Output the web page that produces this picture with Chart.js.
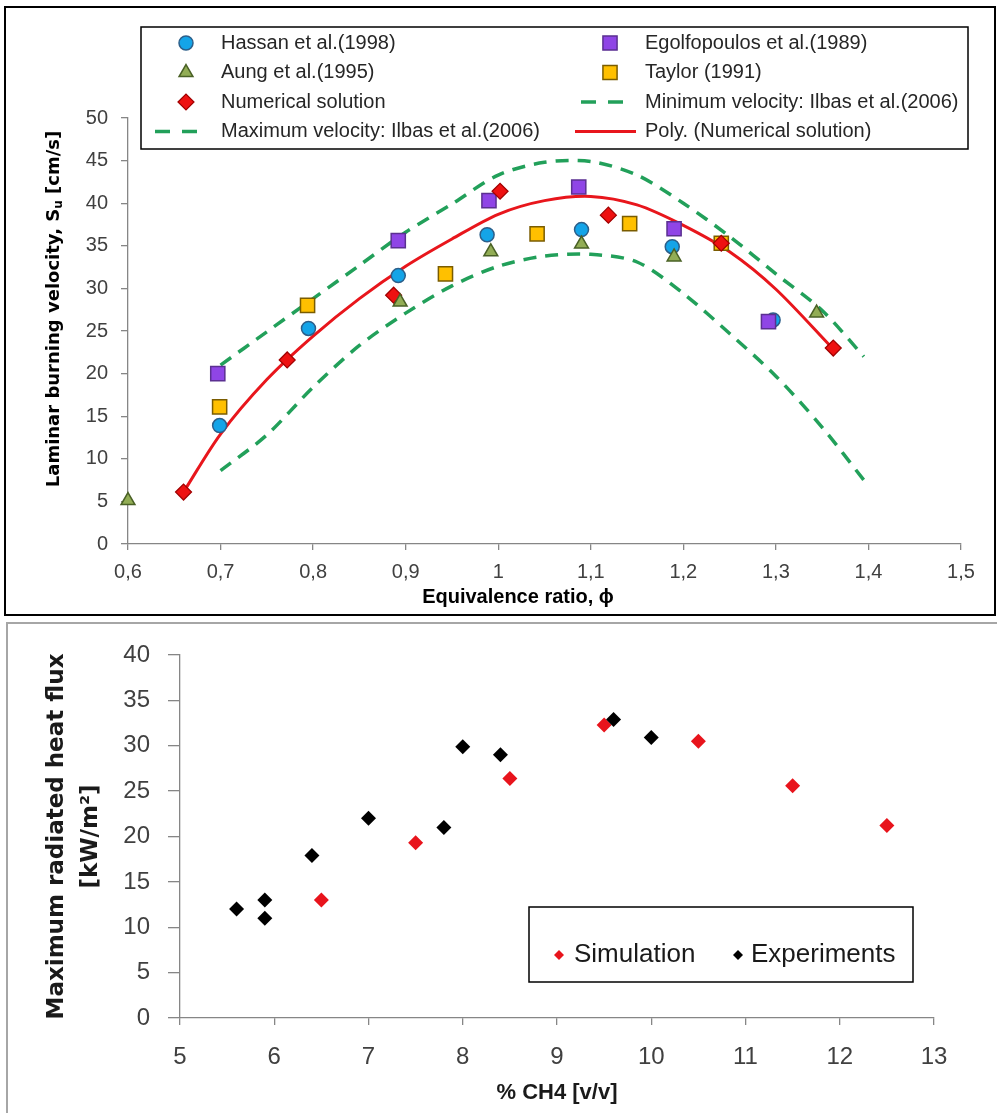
<!DOCTYPE html>
<html>
<head>
<meta charset="utf-8">
<script src="https://cdn.jsdelivr.net/npm/chart.js@4.4.1/dist/chart.umd.min.js"></script>
<style>
  html, body { margin: 0; padding: 0; background: #fff; overflow: hidden; }
  #page { position: relative; width: 997px; height: 1113px; overflow: hidden; }
  #topFrame { position: absolute; box-sizing: border-box; left: 4px; top: 6px; width: 992px; height: 610px; border: 2px solid #000; }
  #bottomFrame { position: absolute; box-sizing: border-box; left: 6px; top: 622px; width: 1000px; height: 520px; border: 2px solid #a6a6a6; }
  #topChart { position: absolute; left: 0; top: 0; }
  #bottomChart { position: absolute; left: 0; top: 620px; }
</style>
</head>
<body>
<div id="page">
  <div id="topFrame"></div>
  <div id="bottomFrame"></div>
  <canvas id="topChart" width="997" height="620"></canvas>
  <canvas id="bottomChart" width="997" height="493"></canvas>
</div>
<script>
// ---- top chart: laminar burning velocity vs equivalence ratio ----
const hassanPhi = [0.699, 0.795, 0.892, 0.988, 1.090, 1.188, 1.297];
const hassanSu = [13.9, 25.3, 31.5, 36.3, 36.9, 34.9, 26.3];
const egolfPhi = [0.697, 0.892, 0.990, 1.087, 1.190, 1.292];
const egolfSu = [20.0, 35.6, 40.3, 41.9, 37.0, 26.1];
const aungPhi = [0.600, 0.894, 0.992, 1.090, 1.190, 1.344];
const aungSu = [5.1, 28.4, 34.3, 35.2, 33.7, 27.1];
const taylorPhi = [0.699, 0.794, 0.943, 1.042, 1.142, 1.241];
const taylorSu = [16.1, 28.0, 31.7, 36.4, 37.6, 35.3];
const numPhi = [0.660, 0.772, 0.887, 1.002, 1.119, 1.241, 1.362];
const numSu = [6.1, 21.6, 29.2, 41.4, 38.6, 35.3, 23.0];
// trendline
const polyPhi = [0.66, 0.70, 0.75, 0.80, 0.85, 0.90, 0.95, 1.00, 1.05, 1.10, 1.15, 1.20, 1.25, 1.30, 1.36];
const polySu = [6.1, 12.9, 19.3, 24.4, 28.8, 32.6, 35.8, 38.7, 40.3, 40.8, 39.8, 37.4, 34.3, 29.9, 23.1];
// Ilbas et al. bounds
const ilbasPhi = [0.70, 0.75, 0.80, 0.85, 0.90, 0.95, 1.00, 1.05, 1.10, 1.15, 1.20, 1.25, 1.30, 1.35, 1.395];
const ilbasMin = [8.6, 12.8, 18.4, 23.3, 27.1, 30.3, 32.6, 33.8, 34.0, 33.1, 29.4, 24.7, 19.7, 13.7, 7.5];
const ilbasMax = [21.0, 24.9, 28.8, 32.7, 36.6, 39.9, 43.3, 44.8, 44.9, 43.3, 40.0, 36.1, 31.7, 27.4, 22.0];
const phiTicks = ['0,6', '0,7', '0,8', '0,9', '1', '1,1', '1,2', '1,3', '1,4', '1,5'];

// ---- bottom chart: radiated heat flux vs % CH4 ----
const simCH4 = [6.5, 7.5, 8.5, 9.5, 10.5, 11.5, 12.5];
const simFlux = [13.0, 19.3, 26.4, 32.3, 30.5, 25.6, 21.2];
const expCH4 = [5.6, 5.9, 5.9, 6.4, 7.0, 7.8, 8.0, 8.4, 9.6, 10.0];
const expFlux = [12.0, 13.0, 11.0, 17.9, 22.0, 21.0, 29.9, 29.0, 32.9, 30.9];

const pts = (xs, ys) => xs.map((x, i) => ({ x: x, y: ys[i] }));

const SANS = '"Liberation Sans", Arial, sans-serif';
const TICK_COLOR = '#404040';
const AXIS_COLOR = '#868686';

// legend in a white box, items placed in columns
const boxLegend = {
  id: 'boxLegend',
  afterDraw(chart, args, opts) {
    const ctx = chart.ctx;
    const b = opts.box;
    ctx.save();
    ctx.fillStyle = '#ffffff';
    ctx.fillRect(b.x, b.y, b.w, b.h);
    ctx.lineWidth = 1.5;
    ctx.strokeStyle = '#000';
    ctx.strokeRect(b.x, b.y, b.w, b.h);
    ctx.font = opts.textFont;
    ctx.textBaseline = 'middle';
    ctx.textAlign = 'left';
    opts.items.forEach(item => {
      const ds = chart.data.datasets[item.ds];
      if (ds.showLine) {
        ctx.beginPath();
        ctx.setLineDash(item.dash || []);
        ctx.strokeStyle = ds.borderColor;
        ctx.lineWidth = ds.borderWidth;
        ctx.moveTo(item.x0, item.y);
        ctx.lineTo(item.x1, item.y);
        ctx.stroke();
        ctx.setLineDash([]);
      } else {
        ctx.fillStyle = ds.backgroundColor;
        ctx.strokeStyle = ds.borderColor;
        ctx.lineWidth = ds.borderWidth;
        Chart.helpers.drawPoint(ctx, {
          pointStyle: ds.pointStyle,
          radius: item.r || ds.pointRadius,
          rotation: 0,
          borderWidth: ds.borderWidth
        }, item.mx, item.y);
      }
      ctx.fillStyle = opts.textColor;
      ctx.fillText(ds.label, item.tx, item.y);
    });
    ctx.restore();
  }
};

// axis titles of the top chart (needs a subscript)
const topTitles = {
  id: 'topTitles',
  afterDraw(chart) {
    const ctx = chart.ctx;
    ctx.save();
    ctx.fillStyle = '#000';
    ctx.textBaseline = 'middle';
    ctx.textAlign = 'center';
    ctx.font = 'bold 20px ' + SANS;
    ctx.fillText('Equivalence ratio, \u03D5', 518, 597);

    const big = 'bold 18px "DejaVu Sans", sans-serif';
    const small = 'bold 12px "DejaVu Sans", sans-serif';
    const parts = [['Laminar burning velocity, S', big, 0], ['u', small, 5], [' [cm/s]', big, 0]];
    let total = 0;
    parts.forEach(p => { ctx.font = p[1]; p.push(ctx.measureText(p[0]).width); total += p[3]; });
    ctx.translate(54, 309);
    ctx.rotate(-Math.PI / 2);
    ctx.textAlign = 'left';
    let x = -total / 2;
    parts.forEach(p => {
      ctx.font = p[1];
      ctx.fillText(p[0], x, p[2]);
      x += p[3];
    });
    ctx.restore();
  }
};

const axisBase = (tickLen) => ({
  grid: { display: true, drawOnChartArea: false, color: AXIS_COLOR, lineWidth: 1.3, tickLength: tickLen },
  border: { display: true, color: AXIS_COLOR, width: 1.3 }
});

const dashGreen = '#22a05a';

new Chart(document.getElementById('topChart').getContext('2d'), {
  type: 'scatter',
  data: {
    datasets: [
      { label: 'Hassan et al.(1998)', data: pts(hassanPhi, hassanSu), pointStyle: 'circle', pointRadius: 7,
        backgroundColor: '#14a4e8', borderColor: '#2c5f8a', borderWidth: 1.5, order: 5 },
      { label: 'Egolfopoulos et al.(1989)', data: pts(egolfPhi, egolfSu), pointStyle: 'rect', pointRadius: 10,
        backgroundColor: '#8f45e6', borderColor: '#5b3091', borderWidth: 1.5, order: 4 },
      { label: 'Aung et al.(1995)', data: pts(aungPhi, aungSu), pointStyle: 'triangle', pointRadius: 8,
        backgroundColor: '#92ad55', borderColor: '#4a6126', borderWidth: 1.5, order: 1, clip: false },
      { label: 'Taylor (1991)', data: pts(taylorPhi, taylorSu), pointStyle: 'rect', pointRadius: 10,
        backgroundColor: '#ffc000', borderColor: '#7a5c00', borderWidth: 1.5, order: 3 },
      { label: 'Numerical solution', data: pts(numPhi, numSu), pointStyle: 'rectRot', pointRadius: 8,
        backgroundColor: '#ee1111', borderColor: '#a00000', borderWidth: 1.2, order: 2 },
      { label: 'Minimum velocity: Ilbas et al.(2006)', data: pts(ilbasPhi, ilbasMin), showLine: true, pointRadius: 0,
        borderColor: dashGreen, borderWidth: 3.5, borderDash: [13, 9], tension: 0.3, fill: false, order: 8 },
      { label: 'Maximum velocity: Ilbas et al.(2006)', data: pts(ilbasPhi, ilbasMax), showLine: true, pointRadius: 0,
        borderColor: dashGreen, borderWidth: 3.5, borderDash: [13, 9], tension: 0.3, fill: false, order: 9 },
      { label: 'Poly. (Numerical solution)', data: pts(polyPhi, polySu), showLine: true, pointRadius: 0,
        borderColor: '#e8161c', borderWidth: 3, tension: 0.3, fill: false, order: 7 }
    ]
  },
  options: {
    responsive: false,
    animation: false,
    events: [],
    layout: { padding: { top: 118, right: 36, left: 0, bottom: 0 } },
    scales: {
      x: Object.assign(axisBase(6), {
        type: 'linear', min: 0.6, max: 1.5,
        ticks: { stepSize: 0.1, padding: 10, color: TICK_COLOR, font: { family: SANS, size: 20 },
                 callback: (v, i) => phiTicks[i] },
        afterFit: s => { s.height = 76; }
      }),
      y: Object.assign(axisBase(7), {
        type: 'linear', min: 0, max: 50,
        ticks: { stepSize: 5, padding: 13, color: TICK_COLOR, font: { family: SANS, size: 20 } },
        afterFit: s => { s.width = 128; }
      })
    },
    plugins: {
      legend: { display: false },
      tooltip: { enabled: false },
      boxLegend: {
        box: { x: 141, y: 27, w: 827, h: 122 },
        textFont: '20px ' + SANS,
        textColor: '#262626',
        items: [
          { ds: 0, mx: 186, tx: 221, y: 43 },
          { ds: 1, mx: 610, tx: 645, y: 43 },
          { ds: 2, mx: 186, tx: 221, y: 72.5 },
          { ds: 3, mx: 610, tx: 645, y: 72.5 },
          { ds: 4, mx: 186, tx: 221, y: 102 },
          { ds: 5, x0: 581, x1: 632, tx: 645, y: 102, dash: [15, 12] },
          { ds: 6, x0: 155, x1: 206, tx: 221, y: 131.5, dash: [15, 12] },
          { ds: 7, x0: 575, x1: 636, tx: 645, y: 131.5 }
        ]
      }
    }
  },
  plugins: [boxLegend, topTitles]
});

new Chart(document.getElementById('bottomChart').getContext('2d'), {
  type: 'scatter',
  data: {
    datasets: [
      { label: 'Simulation', data: pts(simCH4, simFlux), pointStyle: 'rectRot', pointRadius: 7.5,
        backgroundColor: '#e8141c', borderColor: '#e8141c', borderWidth: 0, order: 2 },
      { label: 'Experiments', data: pts(expCH4, expFlux), pointStyle: 'rectRot', pointRadius: 7.5,
        backgroundColor: '#000000', borderColor: '#000000', borderWidth: 0, order: 1 }
    ]
  },
  options: {
    responsive: false,
    animation: false,
    events: [],
    layout: { padding: { top: 35, right: 63, left: 0, bottom: 0 } },
    scales: {
      x: Object.assign(axisBase(7), {
        type: 'linear', min: 5, max: 13,
        ticks: { stepSize: 1, padding: 18, color: TICK_COLOR, font: { family: SANS, size: 24 } },
        title: { display: true, text: '% CH4 [v/v]', color: '#1a1a1a',
                 font: { family: SANS, size: 22, weight: 'bold' }, padding: { top: 0, bottom: 7 } },
        afterFit: s => { s.height = 95; }
      }),
      y: Object.assign(axisBase(12), {
        type: 'linear', min: 0, max: 40,
        ticks: { stepSize: 5, padding: 18, color: TICK_COLOR, font: { family: SANS, size: 24 } },
        title: { display: true, text: ['Maximum radiated heat flux', '[kW/m\u00B2]'], color: '#1a1a1a',
                 font: { family: '"DejaVu Sans", sans-serif', size: 23, weight: 'bold', lineHeight: 1.48 },
                 padding: { top: 40, bottom: 0 } },
        afterFit: s => { s.width = 180; }
      })
    },
    plugins: {
      legend: { display: false },
      tooltip: { enabled: false },
      boxLegend: {
        box: { x: 529, y: 287, w: 384, h: 75 },
        textFont: '26px ' + SANS,
        textColor: '#1a1a1a',
        items: [
          { ds: 0, mx: 559, tx: 574, y: 335, r: 5 },
          { ds: 1, mx: 738, tx: 751, y: 335, r: 5 }
        ]
      }
    }
  },
  plugins: [boxLegend]
});
</script>
</body>
</html>
